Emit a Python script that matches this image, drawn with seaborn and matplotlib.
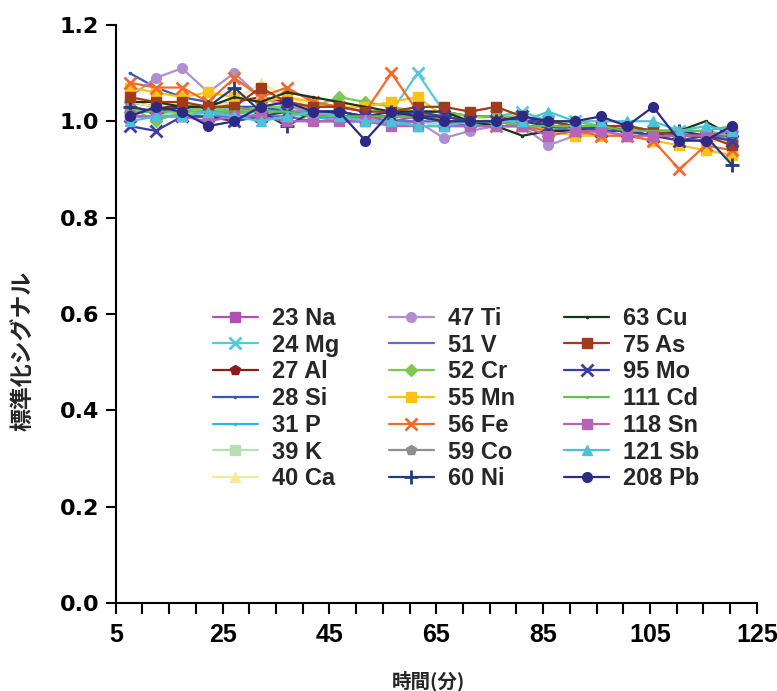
import matplotlib
matplotlib.use("Agg")
import matplotlib.pyplot as plt
import seaborn as sns
import pandas as pd
from matplotlib.ticker import FixedLocator
from matplotlib import font_manager

sns.set_style("white")

times = [7.6, 12.5, 17.4, 22.3, 27.2, 32.1, 37.0, 41.9, 46.8, 51.7, 56.6, 61.5,
         66.4, 71.3, 76.2, 81.1, 86.0, 90.9, 95.8, 100.7, 105.6, 110.5, 115.4, 120.3]

labels = ["23 Na", "24 Mg", "27 Al", "28 Si", "31 P", "39 K", "40 Ca",
          "47 Ti", "51 V", "52 Cr", "55 Mn", "56 Fe", "59 Co", "60 Ni",
          "63 Cu", "75 As", "95 Mo", "111 Cd", "118 Sn", "121 Sb", "208 Pb"]

x_ticks = list(range(5, 126, 5))
x_tick_labels = ["5", "25", "45", "65", "85", "105", "125"]
y_ticks = [0.0, 0.2, 0.4, 0.6, 0.8, 1.0, 1.2]
y_tick_labels = ["0.0", "0.2", "0.4", "0.6", "0.8", "1.0", "1.2"]

na = [1.02,1.02,1.01,1.02,1.02,1.01,1.02,1.01,1.02,1.01,1.00,1.01,1.00,0.99,1.00,0.99,0.98,0.99,0.98,0.98,0.97,0.97,0.97,0.96]
mg = [1.03,1.02,1.03,1.02,1.03,1.02,1.03,1.02,1.02,1.01,1.02,1.10,1.02,1.01,1.01,1.02,1.00,1.00,0.99,0.99,0.98,0.98,0.97,0.97]
al = [1.04,1.03,1.03,1.03,1.04,1.05,1.04,1.03,1.03,1.02,1.02,1.02,1.02,1.01,1.01,1.00,1.00,0.99,0.99,0.99,0.98,0.97,0.97,0.96]
si = [1.10,1.07,1.05,1.04,1.03,1.03,1.02,1.02,1.02,1.01,1.01,1.01,1.00,1.00,1.00,0.99,0.99,0.99,0.98,0.98,0.98,0.97,0.97,0.96]
p_ = [1.02,1.02,1.01,1.01,1.02,1.01,1.01,1.01,1.00,1.00,1.00,1.00,0.99,0.99,1.00,0.99,0.99,0.98,0.98,0.98,0.97,0.97,0.97,0.96]
k_ = [1.01,1.01,1.02,1.01,1.01,1.02,1.01,1.01,1.01,1.00,1.00,1.00,0.99,0.99,0.99,0.99,0.98,0.98,0.98,0.97,0.97,0.96,0.96,0.96]
ca = [1.04,1.03,1.04,1.03,1.04,1.08,1.05,1.03,1.03,1.02,1.02,1.01,1.01,1.01,1.00,1.00,0.99,0.99,0.98,0.98,0.97,0.97,0.96,0.96]
ti = [1.05,1.09,1.11,1.06,1.10,1.05,1.03,1.02,1.00,1.01,0.99,1.00,0.965,0.98,0.99,0.99,0.95,0.97,0.98,0.98,0.97,0.96,0.96,0.97]
v_ = [1.01,1.01,1.01,1.01,1.01,1.01,1.01,1.00,1.00,1.00,1.00,1.00,1.00,0.99,0.99,0.99,0.99,0.98,0.98,0.98,0.98,0.97,0.97,0.97]
cr = [1.03,1.00,1.02,1.03,1.02,1.03,1.03,1.03,1.05,1.04,1.03,1.02,1.02,1.01,1.01,1.01,1.00,1.00,0.99,0.99,0.98,0.98,0.98,0.97]
mn = [1.07,1.06,1.05,1.06,1.05,1.04,1.05,1.04,1.03,1.03,1.04,1.05,1.01,1.00,1.00,0.99,0.98,0.97,0.97,0.97,0.96,0.95,0.94,0.93]
fe = [1.08,1.07,1.07,1.04,1.09,1.05,1.07,1.04,1.03,1.02,1.10,1.02,1.00,1.00,0.99,0.99,0.98,0.98,0.97,0.97,0.96,0.90,0.95,0.94]
co = [1.03,1.02,1.03,1.03,1.03,1.02,1.02,1.02,1.01,1.01,1.01,1.01,1.00,1.00,1.00,0.99,0.99,0.99,0.98,0.98,0.97,0.97,0.97,0.96]
ni = [1.03,1.02,1.03,1.03,1.07,1.02,0.99,1.02,1.02,1.01,1.02,1.01,1.01,1.00,1.00,1.00,0.99,0.99,0.99,0.98,0.98,0.98,0.97,0.91]
cu = [1.04,1.04,1.03,1.03,1.05,1.04,1.06,1.05,1.04,1.03,1.02,1.02,1.02,1.00,0.99,0.97,0.98,0.98,0.99,0.98,0.97,0.98,1.00,0.97]
as_ = [1.05,1.04,1.04,1.03,1.03,1.07,1.04,1.03,1.03,1.02,1.02,1.03,1.03,1.02,1.03,1.01,1.00,0.99,0.99,0.99,0.98,0.97,0.97,0.95]
mo = [0.99,0.98,1.01,1.01,1.00,1.01,1.02,1.01,1.01,1.01,1.01,1.02,1.01,1.00,1.00,1.01,0.99,0.99,0.98,0.98,0.97,0.96,0.97,0.96]
cd = [1.02,1.02,1.02,1.02,1.02,1.02,1.02,1.01,1.01,1.01,1.01,1.01,1.00,1.00,1.00,0.99,0.99,0.99,0.99,0.98,0.98,0.98,0.98,0.99]
sn = [1.01,1.01,1.01,1.00,1.01,1.01,1.00,1.00,1.00,1.00,0.99,0.99,0.99,0.99,0.99,0.99,0.97,0.98,0.98,0.97,0.97,0.97,0.97,0.98]
sb = [1.00,1.01,1.01,1.02,1.01,1.00,1.01,1.02,1.01,1.00,1.00,0.99,0.99,1.00,1.00,1.00,1.02,1.00,1.00,1.00,1.00,0.98,0.99,0.98]
pb = [1.01,1.03,1.02,0.99,1.00,1.03,1.04,1.02,1.02,0.96,1.02,1.01,1.00,1.00,1.00,1.01,1.00,1.00,1.01,0.99,1.03,0.96,0.96,0.99]

series = [na, mg, al, si, p_, k_, ca, ti, v_, cr, mn, fe, co, ni, cu, as_, mo, cd, sn, sb, pb]

colors = ["#B150B0", "#55C8DA", "#8E1B1B", "#3657C0", "#2EB6E8", "#B9DEB4", "#F2EC98",
          "#AD90D2", "#5A6FC6", "#7CC852", "#FDC214", "#F26A2C", "#8E8E8E", "#263A7E",
          "#15371A", "#A23B1C", "#3D3BA8", "#62C24C", "#B564B6", "#49C2DA", "#2D2984"]
markers = ["s", "x", "p", ".", ".", "s", "^",
           "o", None, "D", "s", "x", "p", "+",
           ".", "s", "x", ".", "s", "^", "o"]
msizes = [7, 8, 7, 3, 3, 7, 7,
          7, 0, 6, 7, 8, 7, 10,
          3, 7, 8, 3, 7, 7, 7]

x_font = ["Liberation Sans", "DejaVu Sans"]
y_font = ["DejaVu Sans"]
jp_font = ["Noto Sans CJK JP", "DejaVu Sans"]

fig = plt.figure(figsize=(7.77, 6.91), dpi=100)
ax = fig.add_axes([0.149, 0.127, 0.825, 0.837])

for lab, vals, c, m, ms in zip(labels, series, colors, markers, msizes):
    df = pd.DataFrame({"t": times, "v": vals})
    kw = dict(color=c, linewidth=1.6, label=lab)
    if m is not None:
        kw.update(marker=m, markersize=ms, markeredgecolor=c, markerfacecolor=c,
                  markeredgewidth=2 if m in ("x", "+") else 1)
    sns.lineplot(data=df, x="t", y="v", ax=ax, **kw)

ax.set_xlim(5, 125)
ax.set_ylim(0, 1.2)
ax.xaxis.set_major_locator(FixedLocator(x_ticks))
lab_iter = iter(x_tick_labels)
ax.set_xticklabels([next(lab_iter) if (v - 5) % 20 == 0 else "" for v in x_ticks])
ax.set_yticks(y_ticks)
ax.set_yticklabels(y_tick_labels)

for s in ["top", "right"]:
    ax.spines[s].set_visible(False)
for s in ["left", "bottom"]:
    ax.spines[s].set_linewidth(1.5)
    ax.spines[s].set_color("black")

ax.tick_params(axis="x", direction="out", length=8, width=1.5, colors="black",
               bottom=True, pad=6)
ax.tick_params(axis="y", direction="out", length=7, width=1.5, colors="black",
               left=True, pad=5)
for t in ax.get_xticklabels():
    t.set_family(x_font)
    t.set_fontweight("bold")
    t.set_fontsize(18)
for t in ax.get_yticklabels():
    t.set_family(y_font)
    t.set_fontweight("bold")
    t.set_fontsize(16)

ax.set_xlabel("")
ax.set_ylabel("")
fig.text(428 / 777, 1 - 681 / 691, "時間(分)", family=jp_font, fontweight="bold",
         fontsize=14, ha="center", va="center")
fig.text(24 / 777, 1 - 351 / 691, "標準化シグナル", family=jp_font, fontweight="bold",
         fontsize=16.5, ha="center", va="center", rotation=90)
ax.grid(False)

leg = ax.legend(ncol=3, frameon=False, loc="upper left",
                bbox_to_anchor=(201 / 777, (691 - 295) / 691), bbox_transform=fig.transFigure,
                prop=font_manager.FontProperties(family=x_font, weight="bold", size=17),
                handlelength=1.9, handletextpad=0.6, labelspacing=0.16, columnspacing=2.1,
                borderpad=0)

fig.savefig("out.png", dpi=100)
